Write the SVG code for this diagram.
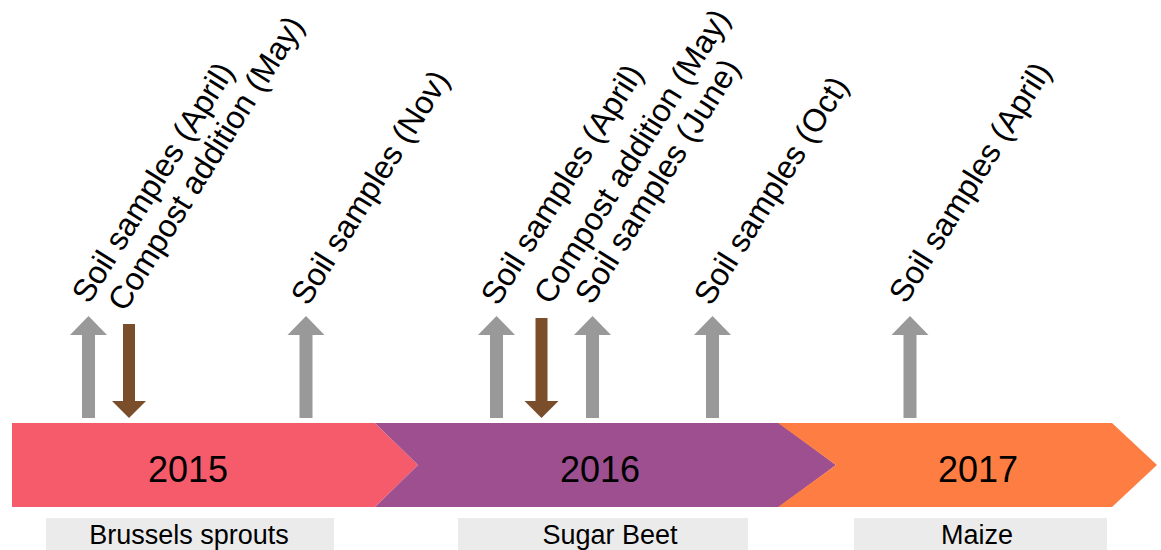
<svg xmlns="http://www.w3.org/2000/svg" xmlns:xlink="http://www.w3.org/1999/xlink" width="1161" height="550" viewBox="0 0 1161 550">
<style>
.yr{font-family:"Liberation Sans",Arial,sans-serif;font-size:36px;fill:#000;text-anchor:middle}
.crop{font-family:"Liberation Sans",Arial,sans-serif;font-size:27px;fill:#000;text-anchor:middle}
.ev{font-family:"Liberation Sans",Arial,sans-serif;font-size:32px;fill:#000}
.box{fill:#EBEBEB}
.up{fill:#999999}
.down{fill:#7A4E2B}
</style>
<defs>
<path id="uparrow" d="M0,316 L18.5,335 L6.5,335 L6.5,418 L-6.5,418 L-6.5,335 L-18.5,335 Z"/>
</defs>
<rect width="1161" height="550" fill="#fff"/>
<g id="y2015">
<polygon points="12,423 375,423 418,465 375,507 12,507" fill="#F55B6A"/>
<text class="yr" x="188" y="482">2015</text>
</g>
<g id="y2016">
<polygon points="375,423 779,423 836,465 779,507 375,507 418,465" fill="#9D4F8F"/>
<text class="yr" x="600" y="482">2016</text>
</g>
<g id="y2017">
<polygon points="778,423 1112,423 1157,465 1112,507 778,507 836,465" fill="#FE7D42"/>
<text class="yr" x="978" y="482">2017</text>
</g>
<g id="crop1"><rect class="box" x="46" y="518" width="288" height="40"/><text class="crop" x="189" y="544">Brussels sprouts</text></g>
<g id="crop2"><rect class="box" x="458" y="518" width="290" height="40"/><text class="crop" x="610" y="544">Sugar Beet</text></g>
<g id="crop3"><rect class="box" x="854" y="518" width="253" height="40"/><text class="crop" x="977" y="544">Maize</text></g>
<g id="connectors">
<use xlink:href="#uparrow" class="up" x="88.5"/>
<use xlink:href="#uparrow" class="up" x="306"/>
<use xlink:href="#uparrow" class="up" x="496.5"/>
<use xlink:href="#uparrow" class="up" x="592.5"/>
<use xlink:href="#uparrow" class="up" x="712.5"/>
<use xlink:href="#uparrow" class="up" x="910"/>
<path class="down" d="M123,324 L135,324 L135,401 L146,401 L129,418 L112,401 L123,401 Z"/>
<path class="down" d="M535.5,318 L547.5,318 L547.5,401 L558.5,401 L541.5,418 L524.5,401 L535.5,401 Z"/>
</g>
<g id="ev1"><text class="ev" transform="translate(89,305) rotate(-58)">Soil samples (April)</text></g>
<g id="ev2"><text class="ev" transform="translate(125,313) rotate(-58)">Compost addition (May)</text></g>
<g id="ev3"><text class="ev" transform="translate(308,307) rotate(-58)">Soil samples (Nov)</text></g>
<g id="ev4"><text class="ev" transform="translate(498,307) rotate(-58)">Soil samples (April)</text></g>
<g id="ev5"><text class="ev" transform="translate(551,306) rotate(-58)">Compost addition (May)</text></g>
<g id="ev6"><text class="ev" transform="translate(592,306) rotate(-58)">Soil samples (June)</text></g>
<g id="ev7"><text class="ev" transform="translate(711,307) rotate(-58)">Soil samples (Oct)</text></g>
<g id="ev8"><text class="ev" transform="translate(906,305) rotate(-58)">Soil samples (April)</text></g>
</svg>
